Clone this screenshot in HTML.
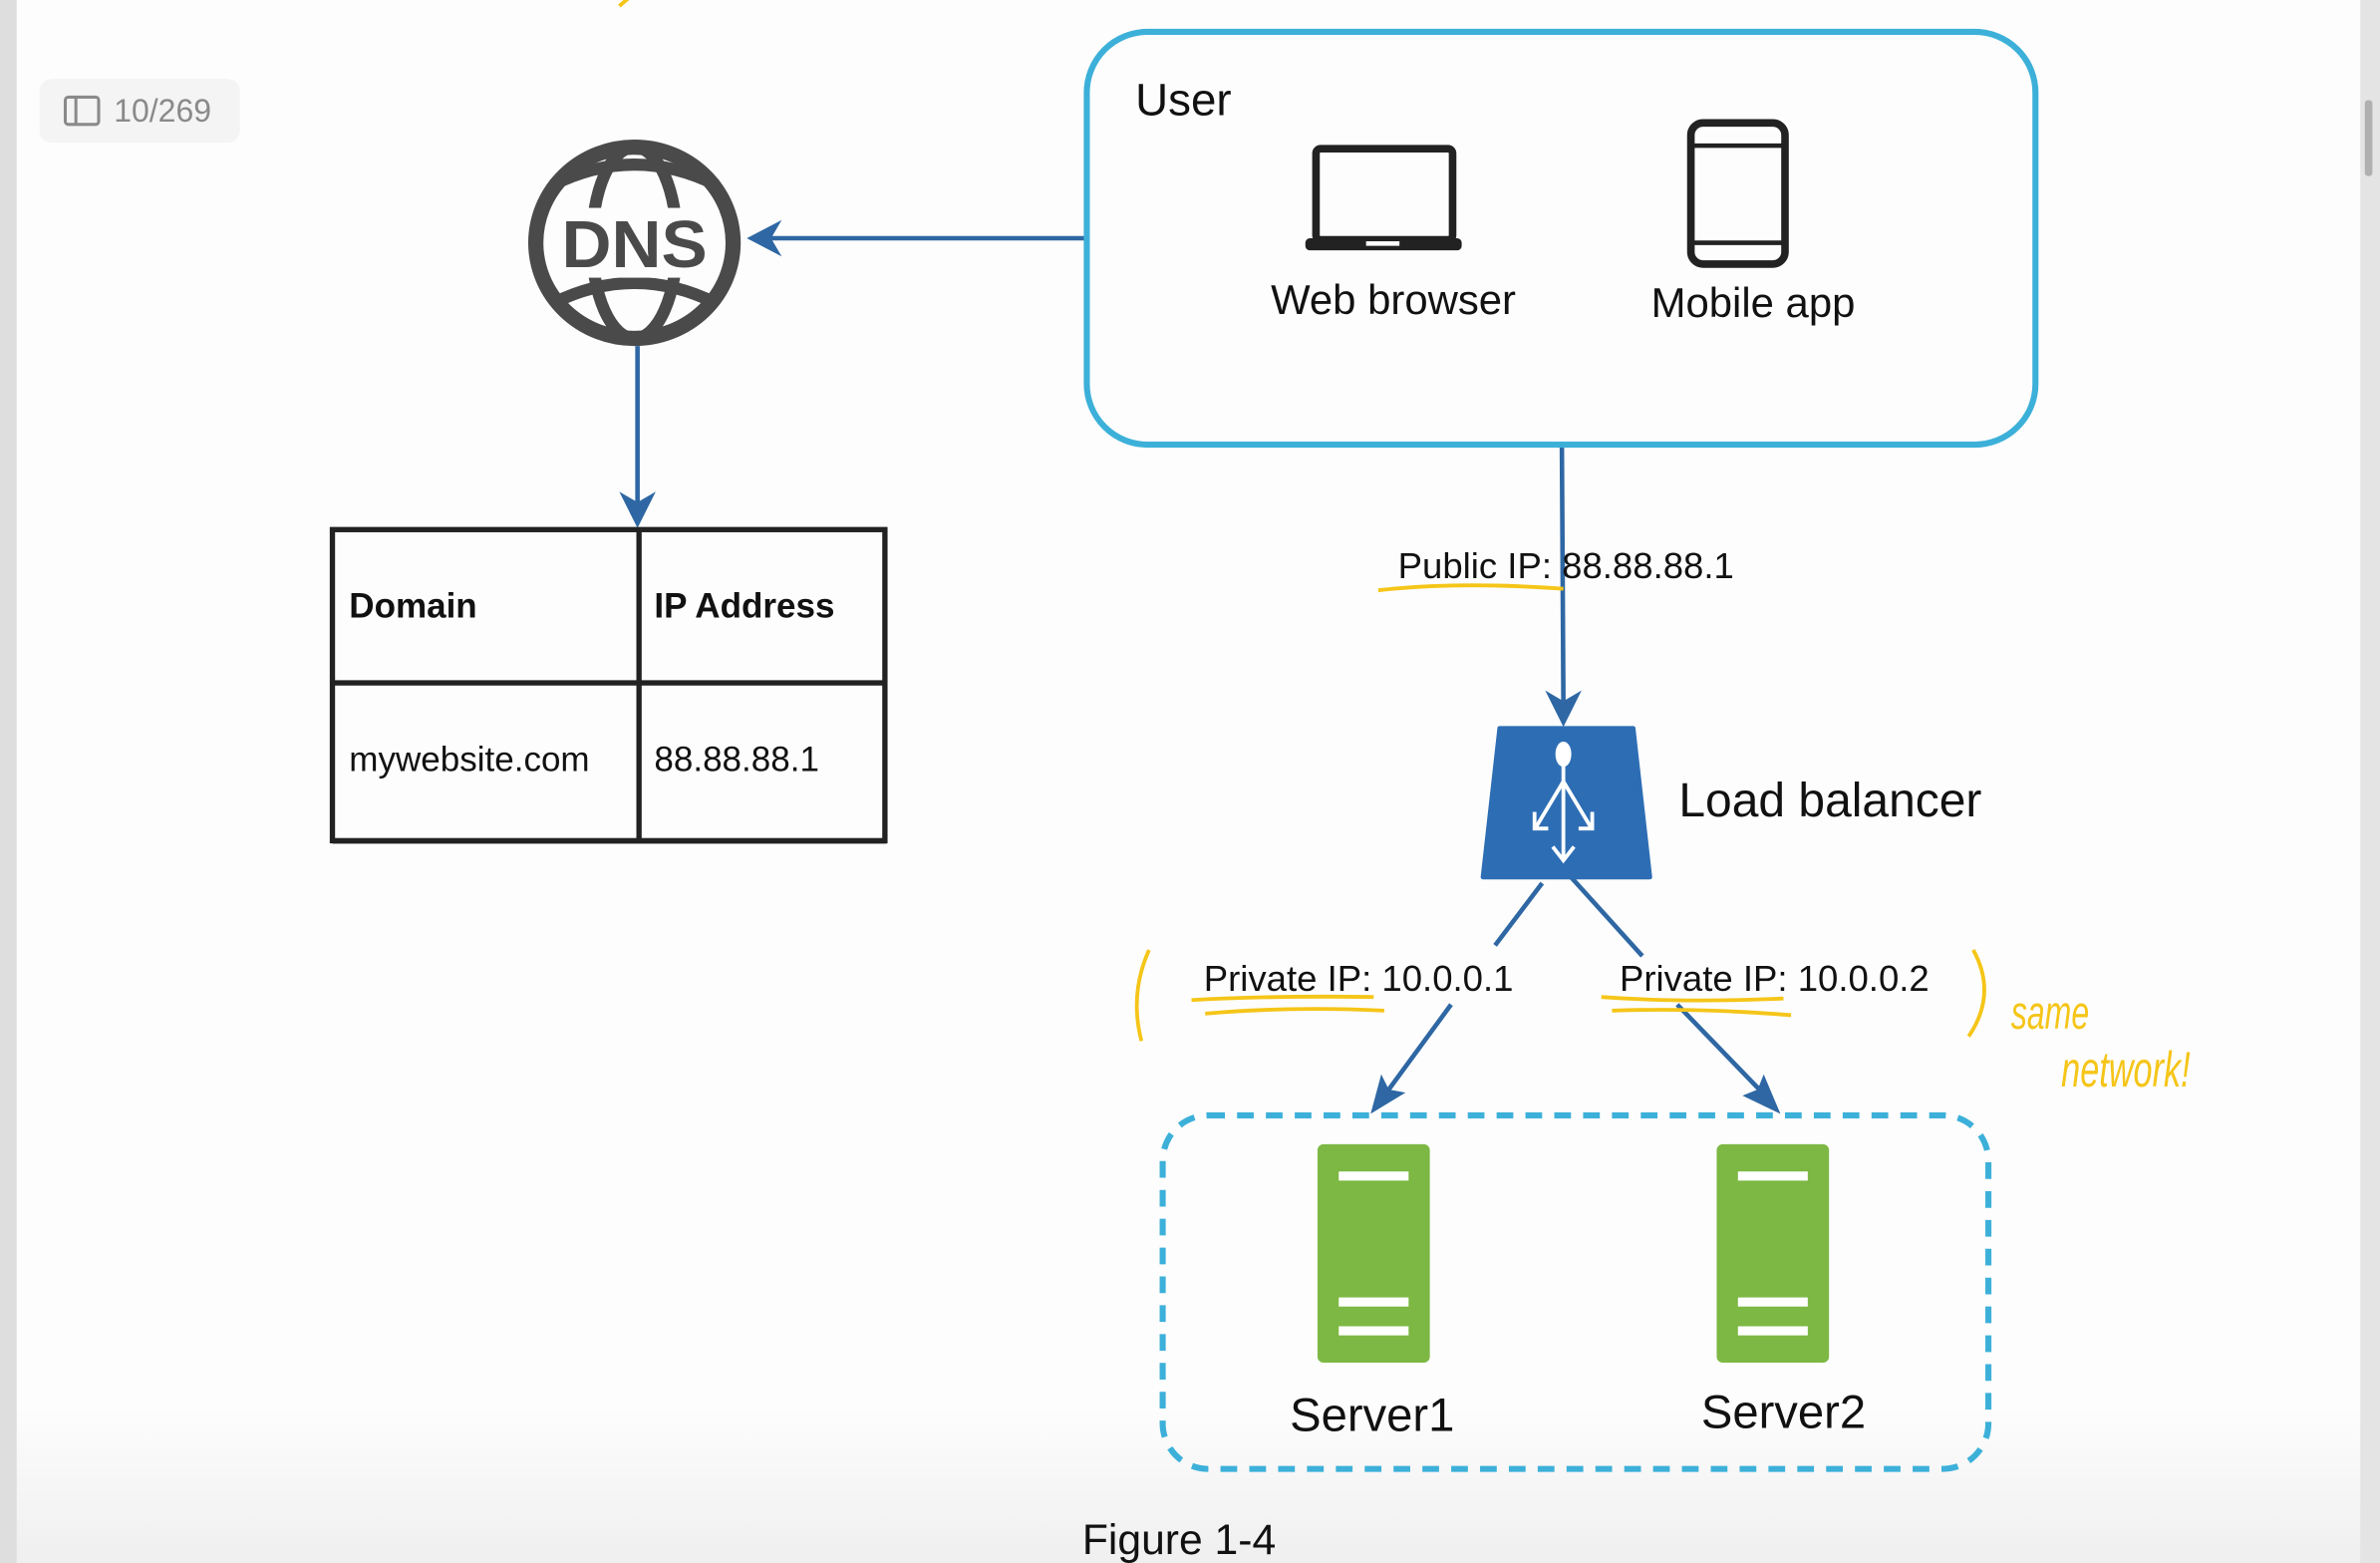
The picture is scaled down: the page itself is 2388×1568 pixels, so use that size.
<!DOCTYPE html>
<html><head><meta charset="utf-8"><style>
html,body{margin:0;padding:0;background:#fdfdfd;}
svg{display:block;}
text{font-family:"Liberation Sans",sans-serif;}
</style></head><body>
<svg width="2388" height="1568" viewBox="0 0 1568 1030" preserveAspectRatio="none" xmlns="http://www.w3.org/2000/svg">
<defs>
<linearGradient id="bg" x1="0" y1="0" x2="0" y2="1">
<stop offset="0.9" stop-color="#fdfdfd"/><stop offset="1" stop-color="#efefef"/>
</linearGradient>
</defs>
<rect width="1568" height="1030" fill="url(#bg)"/>
<rect x="0" y="0" width="11" height="1030" fill="#dedede"/>
<rect x="1555" y="0" width="13" height="1030" fill="#e4e4e4"/>
<rect x="1558" y="66" width="5" height="50" rx="2" fill="#b0b0b0"/>
<!-- badge -->
<rect x="26" y="52" width="132" height="42" rx="8" fill="#f4f4f4"/>
<rect x="43" y="64" width="22" height="18" rx="2" fill="none" stroke="#8a8a8a" stroke-width="2"/>
<line x1="50" y1="64" x2="50" y2="82" stroke="#8a8a8a" stroke-width="2"/>
<text x="75" y="80" font-size="21" fill="#8a8a8a">10/269</text>
<!-- DNS globe -->
<g stroke="#4a4a4a" stroke-width="10" fill="none">
<ellipse cx="418" cy="160" rx="65" ry="63"/>
<ellipse cx="418" cy="160" rx="28" ry="63" stroke-width="8"/>
<path d="M364 122 Q418 95 472 122" stroke-width="8"/>
<path d="M364 200 Q418 173 472 200" stroke-width="8"/>
</g>
<rect x="364" y="137" width="108" height="46" fill="#fdfdfd"/>
<text x="418" y="176" font-size="44" font-weight="bold" fill="#4a4a4a" text-anchor="middle" textLength="96" lengthAdjust="spacingAndGlyphs">DNS</text>
<!-- arrows blue -->
<g stroke="#2e67a3" stroke-width="3" fill="none">
<line x1="716" y1="157" x2="505" y2="157"/>
<line x1="420" y1="228" x2="420" y2="335"/>
<line x1="1029" y1="293" x2="1030" y2="462"/>
<line x1="1016" y1="582" x2="985" y2="623"/>
<line x1="956" y1="662" x2="912" y2="722"/>
<line x1="1035" y1="578" x2="1082" y2="630"/>
<line x1="1105" y1="662" x2="1163" y2="722"/>
</g>
<g fill="#2e67a3">
<polygon points="492,157 515,145 508,157 515,169"/>
<polygon points="420,348 408,324 420,331 432,324"/>
<polygon points="1030,479 1018,455 1030,462 1042,455"/>
<polygon points="903,734 910,708 915,718 926,720"/>
<polygon points="1173,734 1148,722 1158,718 1162,708"/>
</g>
<!-- table -->
<g stroke="#222" stroke-width="3.5" fill="none">
<rect x="219" y="349" width="364" height="205"/>
<line x1="421" y1="349" x2="421" y2="554"/>
<line x1="219" y1="450" x2="583" y2="450"/>
</g>
<line x1="219" y1="555" x2="584" y2="555" stroke="#222" stroke-width="2"/>
<text x="230" y="407" font-size="23" font-weight="bold" fill="#111">Domain</text>
<text x="431" y="407" font-size="23" font-weight="bold" fill="#111">IP Address</text>
<text x="230" y="508" font-size="23" fill="#111">mywebsite.com</text>
<text x="431" y="508" font-size="23" fill="#111">88.88.88.1</text>
<!-- user box -->
<rect x="716" y="21" width="625" height="272" rx="40" fill="none" stroke="#3cb0d9" stroke-width="4"/>
<text x="748" y="76" font-size="30" fill="#111">User</text>
<rect x="867" y="98" width="90" height="60" rx="3" fill="none" stroke="#222" stroke-width="5"/>
<rect x="860" y="157" width="103" height="8" rx="3" fill="#222"/>
<rect x="900" y="159" width="22" height="3" fill="#fff"/>
<rect x="1114" y="81" width="62" height="93" rx="8" fill="none" stroke="#222" stroke-width="5"/>
<line x1="1114" y1="96" x2="1176" y2="96" stroke="#222" stroke-width="3"/>
<line x1="1114" y1="160" x2="1176" y2="160" stroke="#222" stroke-width="3"/>
<text x="918" y="207" font-size="27.5" fill="#111" text-anchor="middle">Web browser</text>
<text x="1155" y="209" font-size="27.5" fill="#111" text-anchor="middle">Mobile app</text>
<!-- public ip -->
<text x="921" y="381" font-size="24" fill="#111">Public IP: 88.88.88.1</text>
<path d="M908 389 Q960 383 1030 388" stroke="#f5c518" stroke-width="2.5" fill="none"/>
<!-- load balancer -->
<polygon points="988,480 1076,480 1087,578 977,578" fill="#2d6db4" stroke="#2d6db4" stroke-width="3" stroke-linejoin="round"/>
<g stroke="#fff" stroke-width="2.5" fill="none">
<line x1="1030" y1="500" x2="1030" y2="566"/>
<ellipse cx="1030" cy="497" rx="4" ry="7" fill="#fff"/>
<line x1="1030" y1="515" x2="1012" y2="545"/>
<line x1="1030" y1="515" x2="1048" y2="545"/>
<polyline points="1011,535 1011,546 1020,546"/>
<polyline points="1049,535 1049,546 1040,546"/>
<polyline points="1023,558 1030,567 1037,558"/>
</g>
<text x="1106" y="538" font-size="31.5" fill="#111">Load balancer</text>
<!-- private ips -->
<text x="793" y="653" font-size="24" fill="#111">Private IP: 10.0.0.1</text>
<text x="1067" y="653" font-size="24" fill="#111">Private IP: 10.0.0.2</text>
<g stroke="#f5c518" stroke-width="2.5" fill="none">
<path d="M785 659 Q840 656 905 657"/>
<path d="M794 668 Q850 663 912 666"/>
<path d="M1055 657 Q1110 661 1175 658"/>
<path d="M1062 666 Q1120 664 1180 669"/>
<path d="M757 626 Q744 655 752 686"/>
<path d="M1300 626 Q1316 655 1297 683"/>
</g>
<text x="1325" y="678" font-size="28" fill="#f5c518" font-style="italic" transform="translate(1325 678) scale(0.75 1.1) translate(-1325 -678)">same</text>
<text x="1358" y="716" font-size="30" fill="#f5c518" font-style="italic" transform="translate(1358 716) scale(0.75 1.1) translate(-1358 -716)">network!</text>
<!-- dashed box -->
<rect x="766" y="735" width="544" height="233" rx="30" fill="none" stroke="#3cb0d9" stroke-width="4" stroke-dasharray="11 8"/>
<g>
<rect x="868" y="754" width="74" height="144" rx="4" fill="#7cb843"/>
<rect x="882" y="772" width="46" height="6" fill="#fff"/>
<rect x="882" y="855" width="46" height="6" fill="#fff"/>
<rect x="882" y="874" width="46" height="6" fill="#fff"/>
<rect x="1131" y="754" width="74" height="144" rx="4" fill="#7cb843"/>
<rect x="1145" y="772" width="46" height="6" fill="#fff"/>
<rect x="1145" y="855" width="46" height="6" fill="#fff"/>
<rect x="1145" y="874" width="46" height="6" fill="#fff"/>
</g>
<text x="904" y="943" font-size="31" fill="#111" text-anchor="middle">Server1</text>
<text x="1175" y="941" font-size="31" fill="#111" text-anchor="middle">Server2</text>
<text x="713" y="1024" font-size="28" fill="#111">Figure 1-4</text>
<path d="M408 4 L415 -2" stroke="#f5c518" stroke-width="2.5"/>
</svg>
</body></html>
